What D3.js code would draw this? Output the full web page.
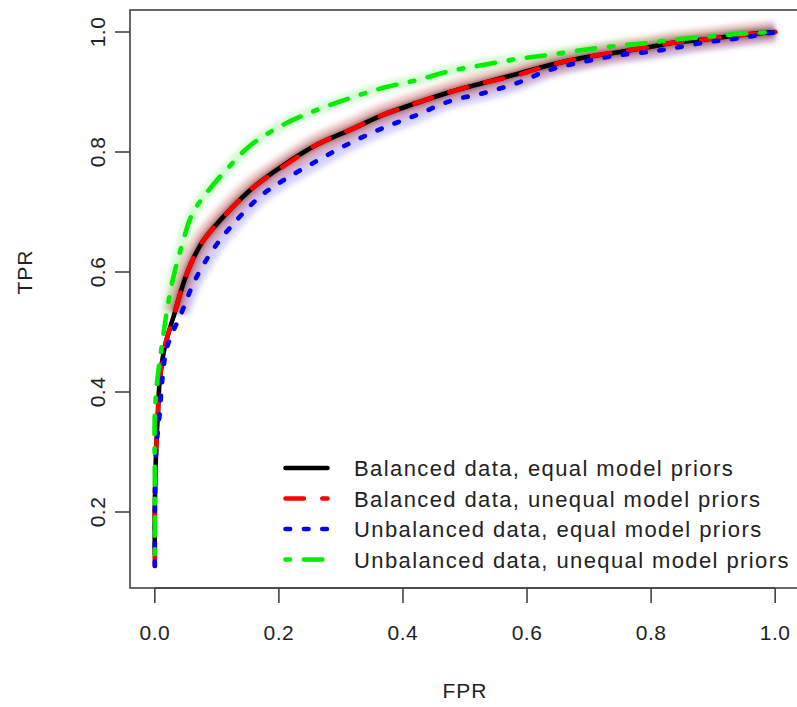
<!DOCTYPE html>
<html>
<head>
<meta charset="utf-8">
<script src="https://cdn.jsdelivr.net/npm/d3@7"></script>
<style>
  body { margin: 0; background: #fff; }
  svg text { font-family: "Liberation Sans", Arial, sans-serif; fill: #222; }
</style>
</head>
<body>
<div id="roc"></div>
<script>
// ROC curves
var balEqFpr   = [0, 0, 0.002, 0.005, 0.008, 0.016, 0.032, 0.048, 0.06, 0.078, 0.116, 0.16, 0.206, 0.261, 0.315, 0.368, 0.423, 0.476, 0.529, 0.584, 0.637, 0.69, 0.745, 0.798, 0.835, 0.89, 0.944, 1.0];
var balEqTpr   = [0.13, 0.2, 0.3, 0.365, 0.42, 0.475, 0.532, 0.587, 0.618, 0.652, 0.698, 0.742, 0.777, 0.812, 0.837, 0.862, 0.882, 0.9, 0.915, 0.93, 0.945, 0.957, 0.966, 0.975, 0.982, 0.988, 0.995, 1.0];

var balUneqFpr = [0, 0, 0.002, 0.005, 0.008, 0.016, 0.032, 0.048, 0.06, 0.078, 0.116, 0.16, 0.206, 0.261, 0.315, 0.368, 0.423, 0.476, 0.529, 0.584, 0.637, 0.69, 0.745, 0.798, 0.835, 0.89, 0.944, 1.0];
var balUneqTpr = [0.11, 0.2, 0.3, 0.365, 0.42, 0.475, 0.532, 0.587, 0.618, 0.652, 0.698, 0.742, 0.775, 0.812, 0.837, 0.862, 0.882, 0.9, 0.915, 0.928, 0.945, 0.957, 0.967, 0.975, 0.982, 0.988, 0.995, 1.0];

var unbEqFpr   = [0, 0, 0.002, 0.008, 0.012, 0.02, 0.043, 0.065, 0.097, 0.135, 0.17, 0.206, 0.261, 0.315, 0.368, 0.423, 0.476, 0.529, 0.584, 0.637, 0.69, 0.745, 0.798, 0.835, 0.89, 0.944, 1.0];
var unbEqTpr   = [0.11, 0.2, 0.3, 0.365, 0.42, 0.475, 0.532, 0.587, 0.642, 0.69, 0.726, 0.752, 0.785, 0.815, 0.84, 0.862, 0.885, 0.898, 0.915, 0.937, 0.95, 0.961, 0.967, 0.973, 0.983, 0.99, 1.0];

var unbUneqFpr = [0, 0, 0, 0.004, 0.011, 0.019, 0.029, 0.043, 0.061, 0.086, 0.115, 0.153, 0.206, 0.261, 0.315, 0.368, 0.423, 0.476, 0.529, 0.584, 0.637, 0.69, 0.745, 0.798, 0.835, 0.89, 0.944, 1.0];
var unbUneqTpr = [0.13, 0.25, 0.365, 0.42, 0.475, 0.532, 0.587, 0.642, 0.698, 0.735, 0.77, 0.81, 0.845, 0.87, 0.89, 0.907, 0.92, 0.935, 0.945, 0.955, 0.962, 0.97, 0.977, 0.982, 0.987, 0.992, 0.997, 1.0];

var legendLabels = [
    "Balanced data, equal model priors",
    "Balanced data, unequal model priors",
    "Unbalanced data, equal model priors",
    "Unbalanced data, unequal model priors"
];
var xTicks = [0, 0.2, 0.4, 0.6, 0.8, 1.0];
var yTicks = [0.2, 0.4, 0.6, 0.8, 1.0];

var width = 797, height = 707;
var box = {left: 130, right: 800, top: 10, bottom: 588};

// R style axes: data range padded by 4%
var x = d3.scaleLinear()
    .domain([-0.04, 1.04])
    .range([box.left, box.right]);

var y = d3.scaleLinear()
    .domain([0.2 - 76 / 600, 1.0 + 22 / 600])
    .range([box.bottom, box.top]);

var svg = d3.select("#roc")
    .append("svg")
    .attr("width", width)
    .attr("height", height);

var defs = svg.append("defs");
defs.append("filter").attr("id", "soft")
    .attr("x", "-20%").attr("y", "-20%").attr("width", "140%").attr("height", "140%")
    .append("feGaussianBlur").attr("stdDeviation", 2.5);
defs.append("clipPath").attr("id", "clip")
    .append("rect")
    .attr("x", box.left).attr("y", box.top)
    .attr("width", box.right - box.left).attr("height", box.bottom - box.top);

function toPoints(fpr, tpr) {
    return fpr.map(function (d, i) { return [d, tpr[i]]; });
}

var line = d3.line()
    .x(function (d) { return x(d[0]); })
    .y(function (d) { return y(d[1]); })
    .curve(d3.curveCatmullRom.alpha(0.5));

var series = [
    {pts: toPoints(balEqFpr, balEqTpr),     color: "#000000", dash: null},
    {pts: toPoints(balUneqFpr, balUneqTpr), color: "#ff0000", dash: "18.4,18.4"},
    {pts: toPoints(unbEqFpr, unbEqTpr),     color: "#0000ff", dash: "4.6,13.8"},
    {pts: toPoints(unbUneqFpr, unbUneqTpr), color: "#00ee00", dash: "4.6,13.8,18.4,13.8"}
];

var plot = svg.append("g").attr("clip-path", "url(#clip)");

// shaded bands of the individual curves (only visible on the bend)
function bandPts(pts) {
    return pts.filter(function (d) { return d[1] >= 0.5; });
}
var bands = plot.append("g").attr("filter", "url(#soft)");
bands.append("path").attr("d", line(bandPts(series[3].pts)))
    .attr("fill", "none").attr("stroke", "#80f080").attr("stroke-width", 11).attr("opacity", 0.35);
bands.append("path").attr("d", line(bandPts(series[2].pts)))
    .attr("fill", "none").attr("stroke", "#8080ff").attr("stroke-width", 16).attr("opacity", 0.35);
bands.append("path").attr("d", line(bandPts(series[1].pts)))
    .attr("fill", "none").attr("stroke", "#d07070").attr("stroke-width", 22).attr("opacity", 0.4);
bands.append("path").attr("d", line(bandPts(series[0].pts)))
    .attr("fill", "none").attr("stroke", "#600c0c").attr("stroke-width", 8).attr("opacity", 0.6);

series.forEach(function (s) {
    plot.append("path")
        .attr("d", line(s.pts))
        .attr("fill", "none")
        .attr("stroke", s.color)
        .attr("stroke-width", 4.6)
        .attr("stroke-linecap", "round")
        .attr("stroke-dasharray", s.dash);
});

// box
svg.append("rect")
    .attr("x", box.left).attr("y", box.top)
    .attr("width", box.right - box.left).attr("height", box.bottom - box.top)
    .attr("fill", "none").attr("stroke", "#444").attr("stroke-width", 1.6);

// x axis
var xa = svg.append("g");
xa.append("line")
    .attr("x1", x(0)).attr("x2", x(1)).attr("y1", box.bottom).attr("y2", box.bottom)
    .attr("stroke", "#444").attr("stroke-width", 1.6);
xa.selectAll(".xt").data(xTicks).enter().append("line")
    .attr("x1", function (d) { return x(d); }).attr("x2", function (d) { return x(d); })
    .attr("y1", box.bottom).attr("y2", box.bottom + 15)
    .attr("stroke", "#444").attr("stroke-width", 1.6);
xa.selectAll(".xl").data(xTicks).enter().append("text")
    .attr("x", function (d) { return x(d); })
    .attr("y", 640)
    .attr("text-anchor", "middle")
    .style("font-size", "21px")
    .style("letter-spacing", "0.5px")
    .text(function (d) { return d3.format(".1f")(d); });

// y axis
var ya = svg.append("g");
ya.selectAll(".yt").data(yTicks).enter().append("line")
    .attr("x1", box.left).attr("x2", box.left - 15)
    .attr("y1", function (d) { return y(d); }).attr("y2", function (d) { return y(d); })
    .attr("stroke", "#444").attr("stroke-width", 1.6);
ya.selectAll(".yl").data(yTicks).enter().append("text")
    .attr("transform", function (d) { return "translate(105," + y(d) + ") rotate(-90)"; })
    .attr("text-anchor", "middle")
    .style("font-size", "21px")
    .style("letter-spacing", "0.5px")
    .text(function (d) { return d3.format(".1f")(d); });

// axis titles
svg.append("text")
    .attr("x", x(0.5)).attr("y", 698)
    .attr("text-anchor", "middle")
    .style("font-size", "21px")
    .style("letter-spacing", "1px")
    .text("FPR");
svg.append("text")
    .attr("transform", "translate(32," + y(0.6) + ") rotate(-90)")
    .attr("text-anchor", "middle")
    .style("font-size", "21px")
    .style("letter-spacing", "1px")
    .text("TPR");

// legend
var legend = svg.append("g");
var rowY = [468, 498.5, 529, 559.5];
legendLabels.forEach(function (lab, i) {
    legend.append("line")
        .attr("x1", 285.5).attr("x2", 327.5)
        .attr("y1", rowY[i]).attr("y2", rowY[i])
        .attr("stroke", series[i].color)
        .attr("stroke-width", 4.6)
        .attr("stroke-linecap", "round")
        .attr("stroke-dasharray", series[i].dash);
    legend.append("text")
        .attr("x", 354).attr("y", rowY[i] + 8)
        .style("font-size", "22px")
        .style("letter-spacing", "1.4px")
        .text(lab);
});
</script>
</body>
</html>
